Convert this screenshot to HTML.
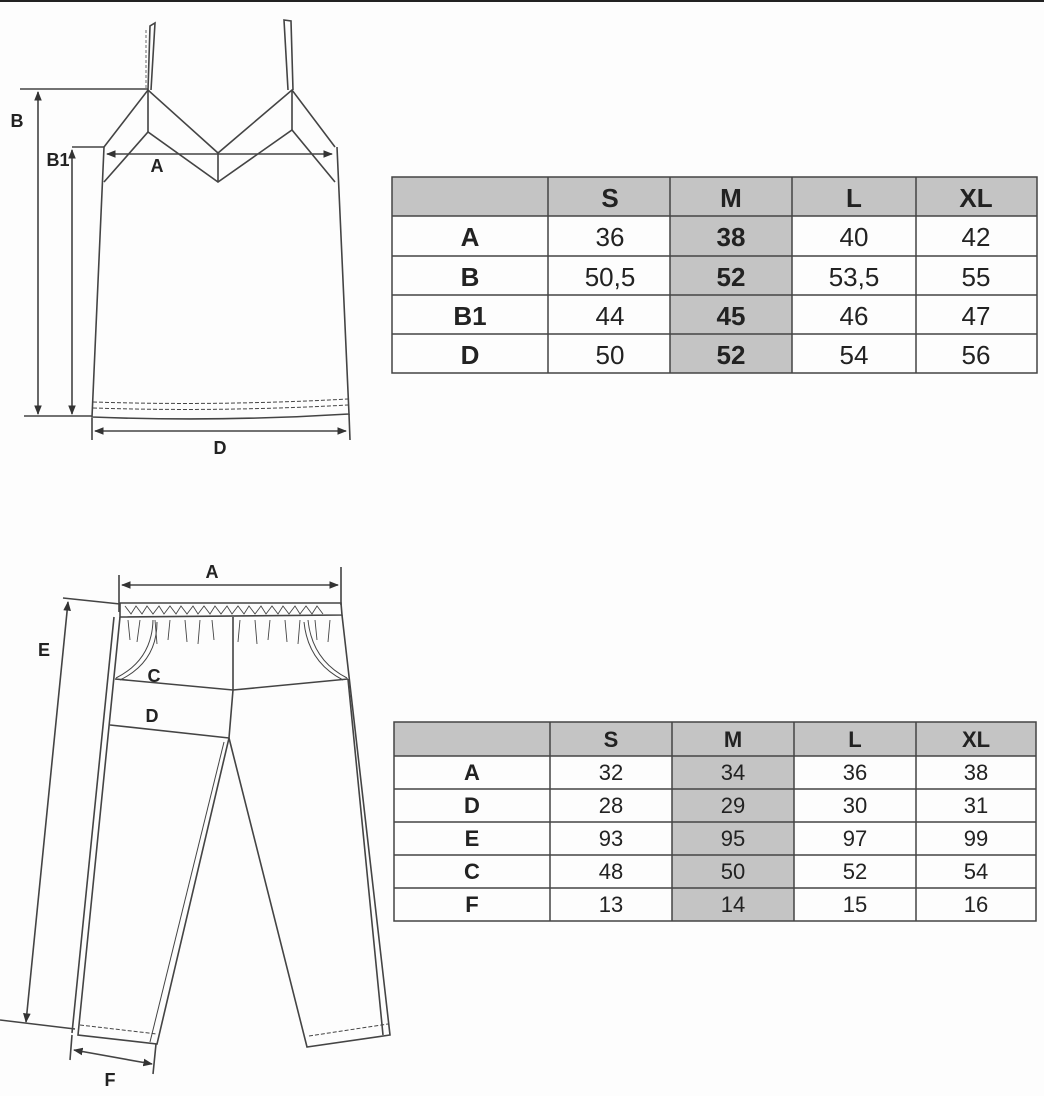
<!DOCTYPE html>
<html><head><meta charset="utf-8"><style>
html,body{margin:0;padding:0;background:#fdfdfd;}
svg{display:block;}
text{font-family:"Liberation Sans",Arial,sans-serif;}
</style></head><body>
<svg width="1044" height="1096" viewBox="0 0 1044 1096" xmlns="http://www.w3.org/2000/svg">
<defs>
<marker id="ar" viewBox="0 0 10 10" refX="9" refY="5" markerWidth="6" markerHeight="6" orient="auto-start-reverse"><path d="M0,1 L10,5 L0,9 z" fill="#333"/></marker>
</defs>
<rect x="0" y="0" width="1044" height="2" fill="#222"/>
<g stroke="#444" stroke-width="1.6" fill="none">
<path d="M148,90 L150,26 L155,23 L151,90"/>
<path d="M146,30 L146,88" stroke-dasharray="3,2" stroke-width="0.8"/>
<path d="M288,90 L284,20 L291,21 L293,90"/>
<path d="M104,147 L148,90 L218,153 L292,90 L335,147"/>
<path d="M148,90 L148,132 M292,90 L292,130 M218,153 L218,182"/>
<path d="M104,182 L148,132 L218,182 L292,130 L335,182"/>
<path d="M104,147 L92,417 Q220,422 349,414 L337,147"/>
<path d="M93,402 Q220,406 348,399" stroke-dasharray="4,2" stroke-width="1"/>
<path d="M93,408 Q220,412 348,405" stroke-dasharray="4,2" stroke-width="1"/>
<path d="M20,89 L148,89 M24,416 L92,416 M72,147 L104,147"/>
<path d="M38,92 L38,414" marker-start="url(#ar)" marker-end="url(#ar)"/>
<path d="M72,150 L72,414" marker-start="url(#ar)" marker-end="url(#ar)"/>
<path d="M107,154 L332,154" marker-start="url(#ar)" marker-end="url(#ar)"/>
<path d="M92,418 L92,440 M349,414 L350,440"/>
<path d="M95,431 L346,431" marker-start="url(#ar)" marker-end="url(#ar)"/>

<path d="M119,575 L119,612 M341,567 L341,605"/>
<path d="M122,585 L338,585" marker-start="url(#ar)" marker-end="url(#ar)"/>
<path d="M120,603 L341,603 L342,615 L120,617 Z"/>
<path d="M125,606 l6,8 l5,-8 l6,8 l5,-8 l6,8 l6,-8 l5,8 l6,-8 l6,8 l5,-8 l6,8 l6,-8 l5,8 l6,-8 l6,8 l5,-8 l6,8 l6,-8 l5,8 l6,-8 l6,8 l5,-8 l6,8 l6,-8 l5,8 l6,-8 l6,8 l5,-8 l6,8 l6,-8 l5,8 l6,-8 l6,8 l5,-8 l6,8" stroke-width="0.9"/>
<path d="M128,620 l2,20 M140,620 l-3,22 M155,620 l2,24 M170,620 l-2,20 M185,620 l2,22 M200,620 l-2,24 M212,620 l2,20 M240,620 l-2,22 M255,620 l2,24 M270,620 l-2,20 M285,620 l2,22 M300,620 l-2,24 M315,620 l2,20 M330,620 l-2,22" stroke-width="0.9"/>
<path d="M153,620 Q152,660 116,678 M157,622 Q157,662 120,680" stroke-width="1"/>
<path d="M308,620 Q312,660 347,678 M304,622 Q308,662 343,680" stroke-width="1"/>
<path d="M120,617 L78,1035 L157,1044 L229,738 L307,1047 L390,1035 L342,615"/>
<path d="M114,617 L72,1033"/>
<path d="M348,679 L383,1035"/>
<path d="M224,742 L150,1042" stroke-width="1"/>
<path d="M80,1025 L157,1034 M309,1036 L388,1024" stroke-dasharray="4,2" stroke-width="1"/>
<path d="M233,617 L233,690 L229,738"/>
<path d="M115,679 L233,690 L348,679"/>
<path d="M110,725 L229,738"/>
<path d="M63,598 L120,604 M0,1020 L75,1029"/>
<path d="M68,602 L26,1022" marker-start="url(#ar)" marker-end="url(#ar)"/>
<path d="M72,1035 L70,1060 M156,1044 L153,1074"/>
<path d="M74,1050 L152,1064" marker-start="url(#ar)" marker-end="url(#ar)"/>
</g>
<g font-weight="bold" font-size="18" fill="#222" text-anchor="middle">
<text x="17" y="127">B</text>
<text x="58" y="166">B1</text>
<text x="157" y="172">A</text>
<text x="220" y="454">D</text>
<text x="212" y="578">A</text>
<text x="44" y="656">E</text>
<text x="154" y="682">C</text>
<text x="152" y="722">D</text>
<text x="110" y="1086">F</text>
</g>

<g>
<rect x="392" y="177" width="645" height="39" fill="#c4c4c4"/>
<rect x="670" y="216" width="122" height="157" fill="#c4c4c4"/>
<g stroke="#444" stroke-width="1.5" fill="none">
<rect x="392" y="177" width="645" height="196"/>
<path d="M392,216 H1037 M392,256 H1037 M392,295 H1037 M392,334 H1037"/>
<path d="M548,177 V373 M670,177 V373 M792,177 V373 M916,177 V373"/>
</g>
<g font-size="26" fill="#222" text-anchor="middle">
<g font-weight="bold"><text x="610" y="207">S</text><text x="731" y="207">M</text><text x="854" y="207">L</text><text x="976" y="207">XL</text>
<text x="470" y="246">A</text><text x="470" y="286">B</text><text x="470" y="325">B1</text><text x="470" y="364">D</text>
<text x="731" y="246">38</text><text x="731" y="286">52</text><text x="731" y="325">45</text><text x="731" y="364">52</text></g>
<text x="610" y="246">36</text><text x="854" y="246">40</text><text x="976" y="246">42</text>
<text x="610" y="286">50,5</text><text x="854" y="286">53,5</text><text x="976" y="286">55</text>
<text x="610" y="325">44</text><text x="854" y="325">46</text><text x="976" y="325">47</text>
<text x="610" y="364">50</text><text x="854" y="364">54</text><text x="976" y="364">56</text>
</g>
</g>

<g>
<rect x="394" y="722" width="642" height="34" fill="#c4c4c4"/>
<rect x="672" y="756" width="122" height="165" fill="#c4c4c4"/>
<g stroke="#444" stroke-width="1.5" fill="none">
<rect x="394" y="722" width="642" height="199"/>
<path d="M394,756 H1036 M394,789 H1036 M394,822 H1036 M394,855 H1036 M394,888 H1036"/>
<path d="M550,722 V921 M672,722 V921 M794,722 V921 M916,722 V921"/>
</g>
<g font-size="22" fill="#222" text-anchor="middle">
<g font-weight="bold"><text x="611" y="747">S</text><text x="733" y="747">M</text><text x="855" y="747">L</text><text x="976" y="747">XL</text>
<text x="472" y="780">A</text><text x="472" y="813">D</text><text x="472" y="846">E</text><text x="472" y="879">C</text><text x="472" y="912">F</text></g>
<text x="611" y="780">32</text><text x="733" y="780">34</text><text x="855" y="780">36</text><text x="976" y="780">38</text>
<text x="611" y="813">28</text><text x="733" y="813">29</text><text x="855" y="813">30</text><text x="976" y="813">31</text>
<text x="611" y="846">93</text><text x="733" y="846">95</text><text x="855" y="846">97</text><text x="976" y="846">99</text>
<text x="611" y="879">48</text><text x="733" y="879">50</text><text x="855" y="879">52</text><text x="976" y="879">54</text>
<text x="611" y="912">13</text><text x="733" y="912">14</text><text x="855" y="912">15</text><text x="976" y="912">16</text>
</g>
</g>
</svg>
</body></html>
